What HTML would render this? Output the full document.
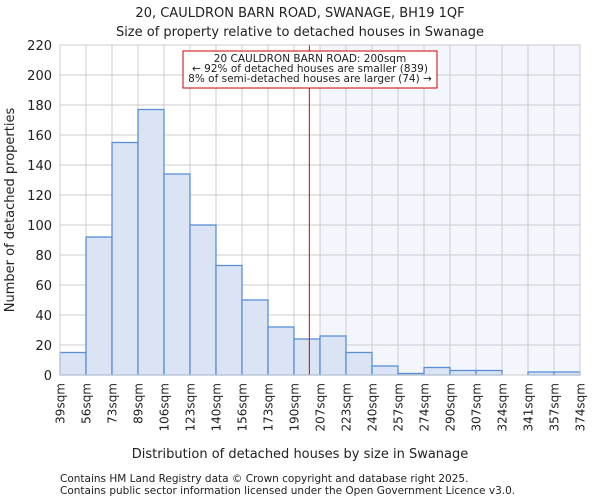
<!DOCTYPE html>
<html><head><meta charset="utf-8"><style>
body{margin:0;background:#fff;font-family:"DejaVu Sans","Liberation Sans",sans-serif;}
svg text{font-family:"DejaVu Sans","Liberation Sans",sans-serif;fill:#222;}
</style></head><body>
<svg id="chart" width="600" height="500" viewBox="0 0 600 500">
<text x="300" y="17" text-anchor="middle" font-size="13">20, CAULDRON BARN ROAD, SWANAGE, BH19 1QF</text>
<text x="300" y="36" text-anchor="middle" font-size="13">Size of property relative to detached houses in Swanage</text>
<g id="plot"></g>
<text x="300" y="458" text-anchor="middle" font-size="13">Distribution of detached houses by size in Swanage</text>
<text transform="translate(14,210) rotate(-90)" text-anchor="middle" font-size="13">Number of detached properties</text>
<text x="60" y="482" font-size="10.5" fill="#444">Contains HM Land Registry data © Crown copyright and database right 2025.</text>
<text x="60" y="494" font-size="10.5" fill="#444">Contains public sector information licensed under the Open Government Licence v3.0.</text>
</svg>
<script>
const binLabels=["39sqm","56sqm","73sqm","89sqm","106sqm","123sqm","140sqm","156sqm","173sqm","190sqm","207sqm","223sqm","240sqm","257sqm","274sqm","290sqm","307sqm","324sqm","341sqm","357sqm","374sqm"];
const counts=[15,92,155,177,134,100,73,50,32,24,26,15,6,1,5,3,3,0,2,2];
const yTicks=[0,20,40,60,80,100,120,140,160,180,200,220];
const propertyIndex=9.59;
const NS="http://www.w3.org/2000/svg";
const g=document.getElementById("plot");
const L=60,R=580,T=45,B=375,yMax=220;
const bw=(R-L)/counts.length;
const xs=i=>L+i*bw;
const ys=v=>B-v/yMax*(B-T);
function mk(t,a){const e=document.createElementNS(NS,t);for(const k in a)e.setAttribute(k,a[k]);g.appendChild(e);return e;}
const px=xs(propertyIndex);
let e=mk("rect",{x:xs(10),y:T,width:R-xs(10),height:B-T,fill:"#f3f6fd"});


yTicks.forEach(v=>{
 let l=mk("line",{x1:L,x2:R,y1:ys(v),y2:ys(v),stroke:"#cccccc","stroke-width":1});
 
 
 let t=mk("text",{x:L-8,y:ys(v)+5,"text-anchor":"end","font-size":"13"});t.textContent=v;
 
 
});
binLabels.forEach((s,i)=>{
 let l=mk("line",{x1:xs(i),x2:xs(i),y1:T,y2:B,stroke:"#cccccc","stroke-width":1});
 
 
 let t=mk("text",{transform:`translate(${xs(i)+4.5},${B+8}) rotate(-90)`,"text-anchor":"end","font-size":"12"});t.textContent=s;
 
 
});
counts.forEach((v,i)=>{
 let r=mk("rect",{x:xs(i),y:ys(v),width:bw,height:B-ys(v),fill:"#dae4f4",stroke:"#5a8fd6","stroke-width":1.3});
 
 
});
e=mk("line",{x1:px,x2:px,y1:T,y2:B,stroke:"#e00000","stroke-width":1});


e=mk("rect",{x:183,y:51,width:254,height:37,fill:"#fff",stroke:"#cc0000","stroke-width":1});


["20 CAULDRON BARN ROAD: 200sqm","← 92% of detached houses are smaller (839)","8% of semi-detached houses are larger (74) →"].forEach((s,i)=>{
 let t=mk("text",{x:310,y:62+i*10,"text-anchor":"middle","font-size":"10.5"});t.textContent=s;
 
 
});
e=mk("rect",{x:L,y:T,width:R-L,height:B-T,fill:"none",stroke:"#cccccc","stroke-width":1});


</script>
</body></html>
